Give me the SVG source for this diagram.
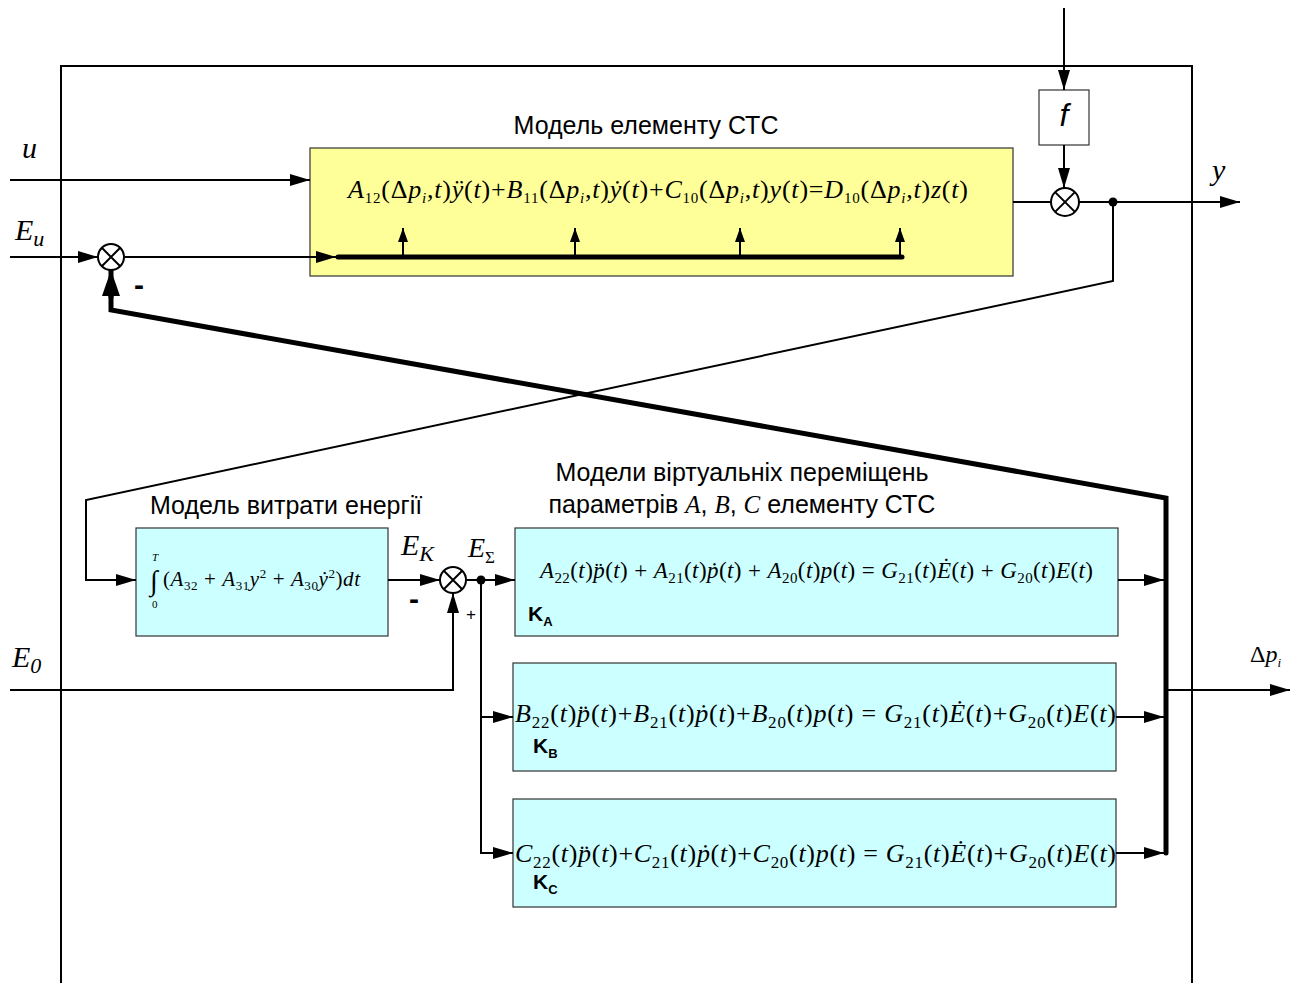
<svg xmlns="http://www.w3.org/2000/svg" width="1295" height="983" viewBox="0 0 1295 983">
  <style>
    .ln { stroke: #000; stroke-width: 2; fill: none; }
    .bold { stroke: #000; stroke-width: 5; fill: none; stroke-linecap: round; stroke-linejoin: miter; }
    .box { stroke: #333; stroke-width: 1.2; }
    .yel { fill: #FFFF99; }
    .cyn { fill: #CCFFFF; }
    .sum { fill: #fff; stroke: #000; stroke-width: 2; }
    .title { font-family: "Liberation Sans", Arial, sans-serif; font-size: 25px; fill: #000; }
    .eq { font-family: "Liberation Serif", "Times New Roman", serif; fill: #000; }
    .i { font-style: italic; }
    .lbl { font-family: "Liberation Serif", "Times New Roman", serif; font-style: italic; font-size: 30px; fill: #000; }
    .k { font-family: "Liberation Sans", Arial, sans-serif; font-weight: bold; font-size: 21px; }
    .ks { font-size: 13px; }
    .sign { font-family: "Liberation Sans", Arial, sans-serif; font-weight: bold; font-size: 30px; }
  </style>
  <defs>
    <marker id="ar" markerWidth="20" markerHeight="12" refX="20" refY="6" orient="auto" markerUnits="userSpaceOnUse">
      <path d="M0,0 L20,6 L0,12 z" fill="#000"/>
    </marker>
    <marker id="sm" markerWidth="14" markerHeight="10" refX="14" refY="5" orient="auto" markerUnits="userSpaceOnUse">
      <path d="M0,0 L14,5 L0,10 z" fill="#000"/>
    </marker>
    <marker id="big" markerWidth="26" markerHeight="18" refX="26" refY="9" orient="auto" markerUnits="userSpaceOnUse">
      <path d="M0,0 L26,9 L0,18 z" fill="#000"/>
    </marker>
  </defs>

  <rect width="1295" height="983" fill="#fff"/>

  <!-- outer frame of the element -->
  <path id="frame" class="ln" d="M61,983 V66 H1192 V983"/>

  <!-- element model -->
  <g id="element-model">
    <text class="title" x="646" y="134" text-anchor="middle">Модель елементу СТС</text>
    <rect class="box yel" x="310" y="148" width="703" height="128"/>
    <text class="eq" x="348" y="198" font-size="26" textLength="620"><tspan class="i">A</tspan><tspan font-size="15" dy="5">12</tspan><tspan dy="-5">(Δ</tspan><tspan class="i">p</tspan><tspan class="i" font-size="15" dy="5">i</tspan><tspan dy="-5">,</tspan><tspan class="i">t</tspan>)<tspan class="i">ÿ</tspan>(<tspan class="i">t</tspan>)+<tspan class="i">B</tspan><tspan font-size="15" dy="5">11</tspan><tspan dy="-5">(Δ</tspan><tspan class="i">p</tspan><tspan class="i" font-size="15" dy="5">i</tspan><tspan dy="-5">,</tspan><tspan class="i">t</tspan>)<tspan class="i">ẏ</tspan>(<tspan class="i">t</tspan>)+<tspan class="i">C</tspan><tspan font-size="15" dy="5">10</tspan><tspan dy="-5">(Δ</tspan><tspan class="i">p</tspan><tspan class="i" font-size="15" dy="5">i</tspan><tspan dy="-5">,</tspan><tspan class="i">t</tspan>)<tspan class="i">y</tspan>(<tspan class="i">t</tspan>)=<tspan class="i">D</tspan><tspan font-size="15" dy="5">10</tspan><tspan dy="-5">(Δ</tspan><tspan class="i">p</tspan><tspan class="i" font-size="15" dy="5">i</tspan><tspan dy="-5">,</tspan><tspan class="i">t</tspan>)<tspan class="i">z</tspan>(<tspan class="i">t</tspan>)</text>
  </g>

  <!-- disturbance block -->
  <g id="f-block">
    <rect x="1039" y="90" width="50" height="55" fill="#fff" stroke="#333" stroke-width="1.2"/>
    <text x="1064" y="126" text-anchor="middle" font-family="'Liberation Sans', Arial, sans-serif" font-style="italic" font-size="32">f</text>
  </g>

  <!-- summing junctions -->
  <g id="sum-eu">
    <circle class="sum" cx="111" cy="257" r="13"/>
    <path class="ln" d="M101.8,247.8 L120.2,266.2 M120.2,247.8 L101.8,266.2"/>
  </g>
  <g id="sum-out">
    <circle class="sum" cx="1065" cy="202" r="14"/>
    <path class="ln" d="M1055.1,192.1 L1074.9,211.9 M1074.9,192.1 L1055.1,211.9"/>
  </g>
  <g id="sum-energy">
    <circle class="sum" cx="453" cy="580" r="13"/>
    <path class="ln" d="M443.8,570.8 L462.2,589.2 M462.2,570.8 L443.8,589.2"/>
  </g>

  <!-- energy consumption model -->
  <g id="energy-model">
    <text class="title" x="150" y="514">Модель витрати енергії</text>
    <rect class="box cyn" x="136" y="528" width="252" height="108"/>
    <text class="eq" x="150" y="590" font-size="28">∫</text>
    <text class="eq i" x="152" y="561" font-size="11">T</text>
    <text class="eq" x="152" y="608" font-size="11">0</text>
    <text class="eq" x="163" y="586" font-size="21" textLength="197">(<tspan class="i">A</tspan><tspan font-size="13" dy="4">32</tspan><tspan dy="-4"> + </tspan><tspan class="i">A</tspan><tspan font-size="13" dy="4">31</tspan><tspan class="i" dy="-4">y</tspan><tspan font-size="13" dy="-8">2</tspan><tspan dy="8"> + </tspan><tspan class="i">A</tspan><tspan font-size="13" dy="4">30</tspan><tspan class="i" dy="-4">ẏ</tspan><tspan font-size="13" dy="-8">2</tspan><tspan dy="8">)</tspan><tspan class="i">dt</tspan></text>
  </g>

  <!-- virtual displacement models -->
  <g id="displacement-title">
    <text class="title" x="742" y="481" text-anchor="middle">Модели віртуальніх переміщень</text>
    <text class="title" x="742" y="513" text-anchor="middle">параметрів <tspan font-family="'Liberation Serif', serif" font-style="italic">A</tspan>, <tspan font-family="'Liberation Serif', serif" font-style="italic">B</tspan>, <tspan font-family="'Liberation Serif', serif" font-style="italic">C</tspan> елементу СТС</text>
  </g>

  <g id="model-a">
    <rect class="box cyn" x="515" y="528" width="603" height="108"/>
    <text class="eq" x="540" y="578" font-size="23" textLength="553"><tspan class="i">A</tspan><tspan font-size="15" dy="5">22</tspan><tspan dy="-5">(</tspan><tspan class="i">t</tspan>)<tspan class="i">p̈</tspan>(<tspan class="i">t</tspan>) + <tspan class="i">A</tspan><tspan font-size="15" dy="5">21</tspan><tspan dy="-5">(</tspan><tspan class="i">t</tspan>)<tspan class="i">ṗ</tspan>(<tspan class="i">t</tspan>) + <tspan class="i">A</tspan><tspan font-size="15" dy="5">20</tspan><tspan dy="-5">(</tspan><tspan class="i">t</tspan>)<tspan class="i">p</tspan>(<tspan class="i">t</tspan>) = <tspan class="i">G</tspan><tspan font-size="15" dy="5">21</tspan><tspan dy="-5">(</tspan><tspan class="i">t</tspan>)<tspan class="i">Ė</tspan>(<tspan class="i">t</tspan>) + <tspan class="i">G</tspan><tspan font-size="15" dy="5">20</tspan><tspan dy="-5">(</tspan><tspan class="i">t</tspan>)<tspan class="i">E</tspan>(<tspan class="i">t</tspan>)</text>
    <text class="k" x="528" y="621">K<tspan class="ks" dy="5">A</tspan></text>
  </g>

  <g id="model-b">
    <rect class="box cyn" x="513" y="663" width="603" height="108"/>
    <text class="eq" x="515" y="722" font-size="26" textLength="601"><tspan class="i">B</tspan><tspan font-size="17" dy="6">22</tspan><tspan dy="-6">(</tspan><tspan class="i">t</tspan>)<tspan class="i">p̈</tspan>(<tspan class="i">t</tspan>)+<tspan class="i">B</tspan><tspan font-size="17" dy="6">21</tspan><tspan dy="-6">(</tspan><tspan class="i">t</tspan>)<tspan class="i">ṗ</tspan>(<tspan class="i">t</tspan>)+<tspan class="i">B</tspan><tspan font-size="17" dy="6">20</tspan><tspan dy="-6">(</tspan><tspan class="i">t</tspan>)<tspan class="i">p</tspan>(<tspan class="i">t</tspan>) = <tspan class="i">G</tspan><tspan font-size="17" dy="6">21</tspan><tspan dy="-6">(</tspan><tspan class="i">t</tspan>)<tspan class="i">Ė</tspan>(<tspan class="i">t</tspan>)+<tspan class="i">G</tspan><tspan font-size="17" dy="6">20</tspan><tspan dy="-6">(</tspan><tspan class="i">t</tspan>)<tspan class="i">E</tspan>(<tspan class="i">t</tspan>)</text>
    <text class="k" x="533" y="753">K<tspan class="ks" dy="5">B</tspan></text>
  </g>

  <g id="model-c">
    <rect class="box cyn" x="513" y="799" width="603" height="108"/>
    <text class="eq" x="515" y="862" font-size="26" textLength="601"><tspan class="i">C</tspan><tspan font-size="17" dy="6">22</tspan><tspan dy="-6">(</tspan><tspan class="i">t</tspan>)<tspan class="i">p̈</tspan>(<tspan class="i">t</tspan>)+<tspan class="i">C</tspan><tspan font-size="17" dy="6">21</tspan><tspan dy="-6">(</tspan><tspan class="i">t</tspan>)<tspan class="i">ṗ</tspan>(<tspan class="i">t</tspan>)+<tspan class="i">C</tspan><tspan font-size="17" dy="6">20</tspan><tspan dy="-6">(</tspan><tspan class="i">t</tspan>)<tspan class="i">p</tspan>(<tspan class="i">t</tspan>) = <tspan class="i">G</tspan><tspan font-size="17" dy="6">21</tspan><tspan dy="-6">(</tspan><tspan class="i">t</tspan>)<tspan class="i">Ė</tspan>(<tspan class="i">t</tspan>)+<tspan class="i">G</tspan><tspan font-size="17" dy="6">20</tspan><tspan dy="-6">(</tspan><tspan class="i">t</tspan>)<tspan class="i">E</tspan>(<tspan class="i">t</tspan>)</text>
    <text class="k" x="533" y="889">K<tspan class="ks" dy="5">C</tspan></text>
  </g>

  <!-- connectors -->
  <g id="connectors">
    <!-- inputs -->
    <line class="ln" x1="10" y1="180" x2="310" y2="180" marker-end="url(#ar)"/>
    <line class="ln" x1="10" y1="257" x2="98" y2="257" marker-end="url(#ar)"/>
    <line class="ln" x1="124" y1="257" x2="336" y2="257" marker-end="url(#ar)"/>
    <!-- parameter bus inside the element model -->
    <line x1="338" y1="257" x2="902" y2="257" stroke="#000" stroke-width="5" stroke-linecap="round"/>
    <line class="ln" x1="403" y1="257" x2="403" y2="228" marker-end="url(#sm)"/>
    <line class="ln" x1="575" y1="257" x2="575" y2="228" marker-end="url(#sm)"/>
    <line class="ln" x1="740" y1="257" x2="740" y2="228" marker-end="url(#sm)"/>
    <line class="ln" x1="900" y1="257" x2="900" y2="228" marker-end="url(#sm)"/>

    <!-- disturbance path -->
    <line class="ln" x1="1064" y1="8" x2="1064" y2="90" marker-end="url(#ar)"/>
    <line class="ln" x1="1064" y1="145" x2="1064" y2="188" marker-end="url(#ar)"/>

    <!-- output -->
    <line class="ln" x1="1013" y1="202" x2="1051" y2="202"/>
    <line class="ln" x1="1079" y1="202" x2="1240" y2="202" marker-end="url(#ar)"/>
    <circle cx="1113" cy="202" r="4.5" fill="#000"/>

    <!-- output fed to the energy model -->
    <polyline class="ln" points="1113,202 1113,281 86,500 86,580 136,580" marker-end="url(#ar)"/>

    <!-- energy balance -->
    <line class="ln" x1="388" y1="580" x2="440" y2="580" marker-end="url(#ar)"/>
    <polyline class="ln" points="10,690 453,690 453,593" marker-end="url(#ar)"/>
    <line class="ln" x1="466" y1="580" x2="515" y2="580" marker-end="url(#ar)"/>
    <circle cx="481" cy="580" r="4.5" fill="#000"/>
    <polyline class="ln" points="481,580 481,853 513,853" marker-end="url(#ar)"/>
    <line class="ln" x1="481" y1="717" x2="513" y2="717" marker-end="url(#ar)"/>

    <!-- model outputs onto the parameter bus -->
    <line class="ln" x1="1118" y1="580" x2="1164" y2="580" marker-end="url(#ar)"/>
    <line class="ln" x1="1116" y1="717" x2="1164" y2="717" marker-end="url(#ar)"/>
    <line class="ln" x1="1116" y1="853" x2="1164" y2="853" marker-end="url(#ar)"/>
    <line class="ln" x1="1166" y1="690" x2="1290" y2="690" marker-end="url(#ar)"/>

    <!-- parameter feedback to the input junction -->
    <polyline class="bold" points="1166,853 1166,498 111,310 111,296"/>
    <line x1="111" y1="298" x2="111" y2="270" stroke="#000" stroke-width="5" marker-end="url(#big)"/>
  </g>

  <!-- signal labels -->
  <g id="labels">
    <text class="lbl" x="22" y="158">u</text>
    <text class="lbl" x="15" y="240">E<tspan font-size="22" dy="6">u</tspan></text>
    <text class="lbl" x="12" y="667">E<tspan font-size="22" dy="6">0</tspan></text>
    <text class="lbl" x="401" y="555">E<tspan font-size="22" dy="6">K</tspan></text>
    <text class="lbl" x="468" y="557" style="font-size:28px">E<tspan font-style="normal" font-size="17" dy="6">Σ</tspan></text>
    <text class="lbl" x="1212" y="180">y</text>
    <text x="1250" y="662" font-family="'Liberation Serif', serif" font-size="24">Δ<tspan font-style="italic">p</tspan><tspan font-style="italic" font-size="13" dy="5">i</tspan></text>
    <text class="sign" x="134" y="295">-</text>
    <text class="sign" x="409" y="609">-</text>
    <text x="466" y="620" font-family="'Liberation Sans', Arial, sans-serif" font-size="17">+</text>
  </g>
</svg>
